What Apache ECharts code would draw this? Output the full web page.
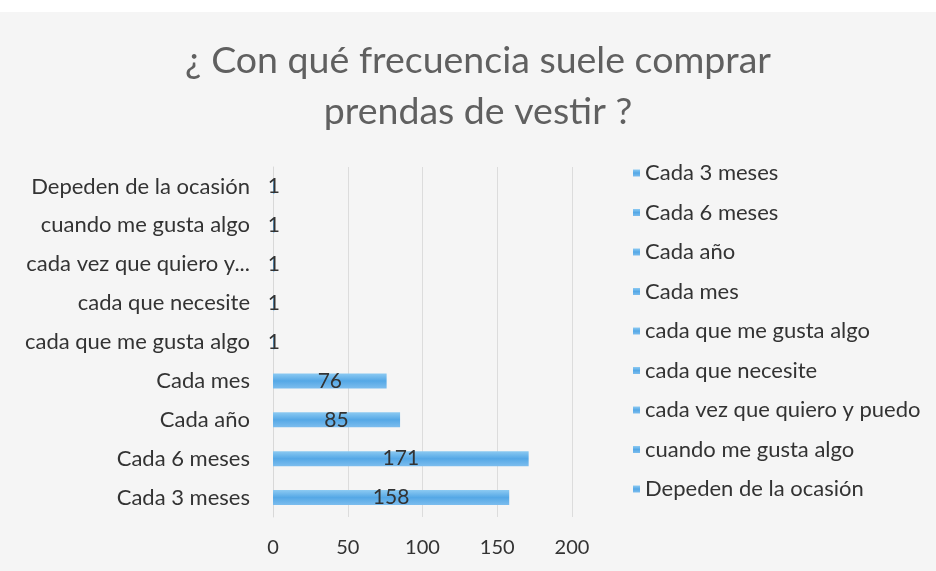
<!DOCTYPE html>
<html>
<head>
<meta charset="utf-8">
<script src="https://cdn.jsdelivr.net/npm/echarts@6/dist/echarts.min.js"></script>
<style>
html,body{margin:0;padding:0;background:#f5f5f5;}
#main{width:936px;height:571px;}
</style>
</head>
<body>
<div id="main"></div>
<script>
const categories = ["Cada 3 meses","Cada 6 meses","Cada año","Cada mes","cada que me gusta algo","cada que necesite","cada vez que quiero y puedo","cuando me gusta algo","Depeden de la ocasión"];
const values = [158,171,85,76,1,1,1,1,1];
const xTicks = [0,50,100,150,200];
const titleText = "¿ Con qué frecuencia suele comprar\nprendas de vestir ?";
const axisLabelMap = {"cada vez que quiero y puedo":"cada vez que quiero y..."};

const FONT = "Lato";
const series = categories.map((name, i) => ({
  name: name,
  type: 'bar',
  stack: 'all',
  barWidth: 15,
  data: values.map((v, j) => j === i ? v : '-'),
  itemStyle: {
    color: new echarts.graphic.LinearGradient(0,0,0,1,[
      {offset:0,color:'#8ccaf2'},{offset:0.5,color:'#55a8e6'},{offset:1,color:'#7cbdee'}
    ])
  },
  label: {
    show: true, position: 'inside', color: '#333', fontSize: 21, fontFamily: FONT
  }
}));

const chart = echarts.init(document.getElementById('main'));
chart.setOption({
  backgroundColor: '#f5f5f5',
  animation: false,
  graphic: [{type:'rect', shape:{x:0,y:0,width:936,height:12}, style:{fill:'#ffffff'}, silent:true, z:-1}],
  title: {
    text: titleText, left: 473, top: 30, textAlign: 'center',
    textStyle: {color:'#606060', fontSize: 37.5, fontWeight: 'normal', fontFamily: FONT, lineHeight: 51}
  },
  legend: {
    orient: 'vertical', left: 628, top: 157,
    data: categories,
    icon: 'rect', itemWidth: 7, itemHeight: 7, itemGap: 17.5,
    textStyle: {color:'#333', fontSize: 22, lineHeight: 22, fontFamily: FONT}
  },
  grid: {left: 273, right: 364, top: 167, bottom: 54, containLabel: false},
  xAxis: {
    type: 'value', min: xTicks[0], max: xTicks[xTicks.length-1], interval: 50,
    axisLine: {show:false}, axisTick: {show:false},
    splitLine: {lineStyle:{color:'#dcdcdc'}},
    axisLabel: {color:'#333', fontSize: 20, fontFamily: FONT, margin: 21}
  },
  yAxis: {
    type: 'category', data: categories,
    axisLine: {show:true, lineStyle:{color:'#d8d8d8'}}, axisTick: {show:false},
    axisLabel: {color:'#333', fontSize: 22, fontFamily: FONT, margin: 23,
      formatter: v => axisLabelMap[v] || v}
  },
  series: series
});
</script>
</body>
</html>
